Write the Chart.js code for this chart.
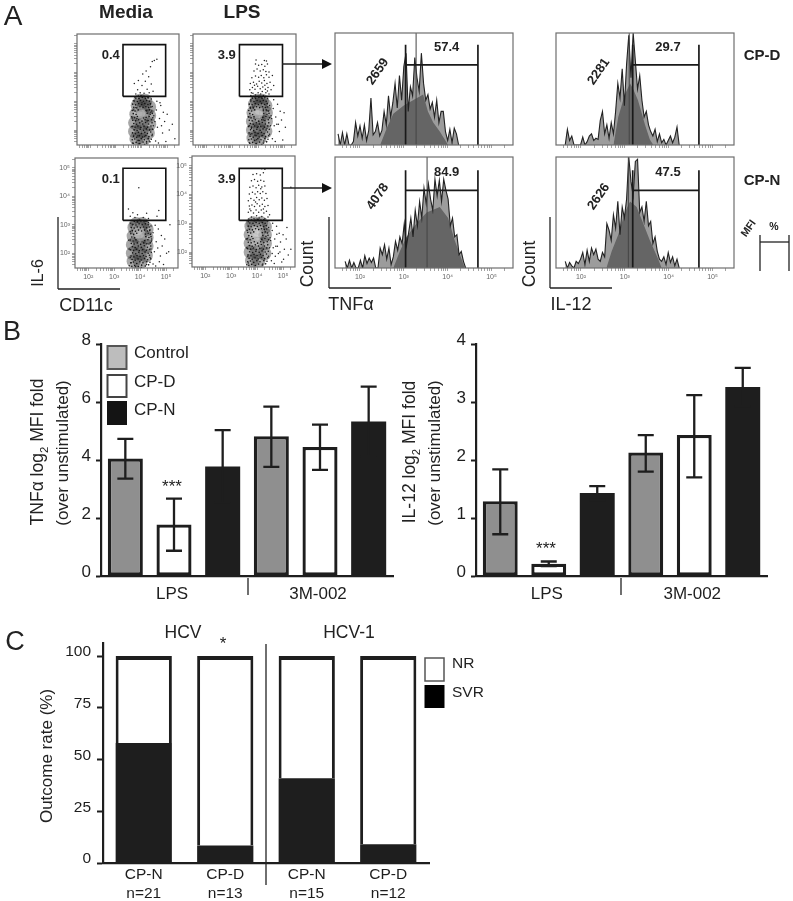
<!DOCTYPE html>
<html>
<head>
<meta charset="utf-8">
<title>Figure</title>
<script src="https://cdn.jsdelivr.net/npm/chart.js@4"></script>
<style>
html, body { margin: 0; padding: 0; background: #fff; }
#page { position: relative; width: 793px; height: 901px; overflow: hidden; font-family: "Liberation Sans", Arial, sans-serif; color: #222; }
canvas { position: absolute; }
.t { position: absolute; white-space: nowrap; line-height: 1; transform: translate(-50%, -50%); }
svg { position: absolute; left: 0; top: 0; }
sub { font-size: 65%; line-height: 0; }
</style>
</head>
<body>
<div id="page"></div>
<script>
// Panel B
const barCats = ['', 'LPS', '', '', '3M-002', ''];
const barColors = ['#8f8f8f', '#ffffff', '#1e1e1e', '#8f8f8f', '#ffffff', '#1e1e1e'];
const tnfMeans = [4.05, 1.78, 3.78, 4.82, 4.45, 5.33];
const tnfHigh = [4.73, 2.67, 5.03, 5.84, 5.22, 6.53];
const tnfLow = [3.36, 0.87, 2.53, 3.76, 3.66, 4.13];
const tnfTicks = [0, 2, 4, 6, 8];
const il12Means = [1.29, 0.21, 1.43, 2.13, 2.43, 3.26];
const il12High = [1.84, 0.25, 1.55, 2.43, 3.12, 3.59];
const il12Low = [0.72, 0.17, 1.31, 1.8, 1.7, 2.93];
const il12Ticks = [0, 1, 2, 3, 4];

// Panel C
const outcomeCats = [['CP-N', 'n=21'], ['CP-D', 'n=13'], ['CP-N', 'n=15'], ['CP-D', 'n=12']];
const svrRate = [58, 8.5, 41, 9];
const nrRate = [42, 91.5, 59, 91];
const outcomeTicks = [0, 25, 50, 75, 100];

// Panel A, axes in log10 decades
const decadeTicks = [1.6, 1.7, 1.78, 1.85, 1.9, 1.95, 2, 2.3, 2.48, 2.6, 2.7, 2.78, 2.85, 2.9, 2.95, 3, 3.3, 3.48, 3.6, 3.7, 3.78, 3.85, 3.9, 3.95, 4, 4.3, 4.48, 4.6, 4.7, 4.78, 4.85, 4.9, 4.95, 5, 5.3];
const decadeNames = { 2: '10²', 3: '10³', 4: '10⁴', 5: '10⁵' };

// speckle seen in all four main clouds: [CD11c, IL-6] in decades
const cloudGrain = [[3.68,1.54],[3.79,1.57],[3.93,1.53],[4.06,1.58],[4.2,1.55],[4.33,1.59],
[3.64,1.66],[3.74,1.69],[3.87,1.64],[3.99,1.7],[4.11,1.66],[4.26,1.7],[4.38,1.68],
[3.69,1.78],[3.81,1.75],[3.92,1.8],[4.04,1.76],[4.17,1.81],[4.29,1.77],[4.41,1.8],
[3.65,1.9],[3.76,1.87],[3.88,1.92],[4.0,1.88],[4.13,1.92],[4.23,1.88],[4.36,1.93],
[3.71,2.01],[3.83,1.98],[3.95,2.03],[4.08,1.99],[4.19,2.04],[4.31,2.0],[4.43,2.03],
[3.63,2.12],[3.75,2.1],[3.86,2.14],[3.97,2.09],[4.1,2.13],[4.24,2.1],[4.37,2.14],
[3.7,2.23],[3.81,2.2],[3.93,2.25],[4.05,2.21],[4.16,2.26],[4.28,2.21],[4.41,2.25],
[3.66,2.34],[3.77,2.32],[3.89,2.36],[4.02,2.31],[4.14,2.36],[4.26,2.33],[4.39,2.36],
[3.62,2.46],[3.73,2.43],[3.84,2.47],[4.18,2.44],[4.3,2.47],[4.44,2.43],
[3.68,2.57],[3.79,2.54],[4.22,2.58],[4.34,2.55],[4.42,2.58],
[3.64,2.68],[3.75,2.66],[3.87,2.7],[4.2,2.67],[4.31,2.7],[4.4,2.66],
[3.7,2.79],[3.82,2.77],[3.94,2.81],[4.06,2.78],[4.17,2.81],[4.28,2.78],[4.37,2.8],
[3.66,2.9],[3.77,2.88],[3.89,2.92],[4.01,2.89],[4.13,2.92],[4.25,2.89],[4.35,2.92],
[3.72,3.01],[3.84,2.99],[3.96,3.03],[4.08,3.0],[4.2,3.03],[4.31,3.0],
[3.78,3.11],[3.9,3.1],[4.03,3.13],[4.15,3.1],[4.26,3.12]];

// dot plots: [CD11c, IL-6] in decades
const mediaTopCore = [[3.8,1.7],[4.05,1.65],[3.75,1.95],[4.0,1.95],[4.25,1.9],[3.75,2.25],[4.0,2.25],[4.3,2.2],[3.8,2.55],[4.05,2.55],[4.3,2.5],[3.85,2.85],[4.1,2.85],[4.3,2.8],[3.95,3.02],[4.15,3.02]];
const mediaTopLight = [[3.92,2.62],[4.02,2.5]];
const mediaTopDots = [[3.78,3.25],[3.85,3.4],[3.72,3.62],[3.95,3.3],[4.02,3.55],[4.1,3.28],[3.88,3.72],[4.15,3.7],[4.22,3.42],[4.3,3.3],[4.28,3.85],[4.18,4.05],[4.35,4.2],[4.42,4.38],[4.5,4.42],[4.6,4.46],[4.05,3.95],[3.98,3.2],[4.38,3.6],[4.45,3.35],
[4.55,1.62],[4.62,2.1],[4.7,2.4],[4.58,2.7],[4.75,2.85],[4.82,1.9],[4.9,2.3],[5.0,2.55],[5.08,2.0],[4.66,1.55],[4.95,1.6],[5.2,2.2],[4.6,3.0],[4.72,2.95],[4.52,2.3],[4.85,2.62],[5.3,1.7],[4.78,2.15],
[3.65,1.55],[3.7,1.82],[3.66,2.12],[3.64,2.42],[3.7,2.7],[3.68,3.02],[3.9,1.52],[4.12,1.5],[4.3,1.62],[4.42,1.85],[4.46,2.15],[4.48,2.5],[4.42,2.82],[4.38,3.08],[3.74,3.15],[3.88,3.18],[4.1,3.16],[4.25,3.12],[3.86,1.8],[3.98,2.1],[4.12,1.78],[4.22,2.32],[3.82,2.4],[4.18,2.68],[3.78,2.78],[4.32,2.02],[3.92,1.64],[4.08,2.42],[4.36,2.62],[3.72,2.0],[4.2,1.6],[4.02,2.95],[3.9,3.1],[4.35,2.9]];

const lpsTopCore = [[3.82,1.72],[4.05,1.7],[3.8,2.0],[4.05,2.0],[4.28,1.95],[3.8,2.3],[4.05,2.3],[4.3,2.3],[3.82,2.6],[4.05,2.62],[4.3,2.6],[3.88,2.9],[4.1,2.9],[4.28,2.85],[3.95,3.02],[4.15,3.02]];
const lpsTopLight = [[3.98,2.62],[4.08,2.72],[3.95,2.5]];
const lpsTopDots = [[3.72,3.2],[3.8,3.28],[3.9,3.22],[4.0,3.3],[4.1,3.25],[4.2,3.2],[4.3,3.3],[4.42,3.25],[3.68,3.4],[3.78,3.48],[3.88,3.42],[3.98,3.52],[4.08,3.44],[4.18,3.5],[4.28,3.42],[4.38,3.48],[4.5,3.4],[3.7,3.62],[3.82,3.66],[3.94,3.6],[4.04,3.7],[4.14,3.64],[4.24,3.72],[4.34,3.62],[4.46,3.66],[3.76,3.82],[3.9,3.88],[4.02,3.84],[4.12,3.9],[4.22,3.82],[4.32,3.92],[4.42,3.84],[3.84,4.05],[3.96,4.12],[4.08,4.05],[4.2,4.1],[4.3,4.04],[4.42,4.02],[3.9,4.3],[4.02,4.25],[4.14,4.28],[4.26,4.22],[4.36,4.3],[3.92,4.44],[4.24,4.42],[4.32,4.4],[4.55,3.9],[4.6,3.55],[3.74,3.3],[4.16,3.34],[4.36,3.36],[3.86,3.56],[4.26,3.56],
[4.55,1.7],[4.62,2.15],[4.68,2.45],[4.58,2.75],[4.75,2.9],[4.82,1.95],[4.9,2.35],[5.0,2.6],[5.05,2.1],[4.66,1.6],[4.95,1.65],[4.6,3.05],[4.72,2.2],[4.52,2.4],[4.85,2.65],[4.78,2.2],
[3.66,1.56],[3.7,1.85],[3.66,2.15],[3.64,2.45],[3.7,2.75],[3.72,3.05],[3.92,1.52],[4.14,1.5],[4.32,1.6],[4.44,1.85],[4.48,2.15],[4.5,2.5],[4.44,2.85],[4.36,3.1],[3.88,3.14],[4.12,3.14],[3.88,1.82],[4.0,2.12],[4.14,1.8],[4.2,2.35],[3.84,2.42],[4.2,2.72],[3.8,2.8],[4.34,2.05],[3.94,1.66],[4.34,2.68],[3.74,2.05],[4.22,1.62]];

const mediaBotCore = [[3.75,1.72],[4.0,1.68],[3.72,2.0],[3.98,1.98],[4.22,1.92],[3.72,2.3],[3.98,2.3],[4.25,2.25],[3.75,2.6],[4.0,2.62],[4.25,2.55],[3.78,2.9],[4.02,2.92],[4.25,2.85],[3.85,3.02],[4.08,3.02]];
const mediaBotLight = [[3.95,2.72],[4.02,2.62],[3.92,2.85]];
const mediaBotDots = [[3.62,3.3],[3.72,3.42],[3.55,3.55],[3.8,3.25],[3.9,3.35],[4.12,3.25],[4.32,3.22],[4.65,3.3],[4.72,3.5],[3.95,4.3],[4.25,3.4],
[4.5,1.62],[4.55,2.05],[4.62,2.4],[4.5,2.72],[4.7,2.85],[4.78,1.9],[4.85,2.25],[4.95,2.5],[5.02,2.0],[4.6,1.55],[4.9,1.6],[5.1,2.05],[4.58,2.98],[4.42,2.95],[4.68,2.18],[4.82,2.62],[5.15,3.0],[4.74,1.7],
[3.58,1.56],[3.62,1.85],[3.58,2.15],[3.56,2.45],[3.62,2.75],[3.64,3.05],[3.82,1.52],[4.05,1.5],[4.25,1.6],[4.38,1.85],[4.42,2.15],[4.44,2.5],[4.38,2.82],[4.32,3.08],[3.76,3.14],[3.98,3.16],[4.2,3.12],[3.66,1.66],[4.34,2.32],[3.7,3.0]];

const lpsBotCore = [[3.8,1.7],[4.05,1.68],[3.75,2.0],[4.0,1.98],[4.28,1.95],[3.75,2.3],[4.0,2.3],[4.3,2.3],[3.75,2.6],[4.02,2.6],[4.3,2.6],[3.78,2.9],[4.04,2.92],[4.3,2.88],[3.85,3.0],[4.15,3.0]];
const lpsBotLight = [[3.95,2.6],[4.05,2.72],[3.9,2.42],[4.0,2.85],[3.98,2.3],[3.85,2.7]];
const lpsBotDots = [[3.68,3.15],[3.78,3.22],[3.88,3.16],[3.98,3.26],[4.08,3.18],[4.18,3.24],[4.3,3.16],[4.42,3.22],[3.66,3.38],[3.76,3.44],[3.86,3.36],[3.96,3.46],[4.06,3.38],[4.16,3.46],[4.26,3.36],[4.36,3.42],[4.48,3.3],[3.7,3.6],[3.8,3.64],[3.9,3.58],[4.0,3.68],[4.1,3.6],[4.2,3.66],[4.3,3.58],[4.42,3.62],[3.66,3.78],[3.76,3.86],[3.88,3.8],[3.98,3.9],[4.08,3.82],[4.18,3.88],[4.28,3.8],[4.38,3.86],[3.7,4.02],[3.82,4.08],[3.92,4.02],[4.02,4.1],[4.12,4.04],[4.22,4.1],[4.34,4.04],[3.72,4.25],[3.84,4.3],[3.96,4.24],[4.06,4.32],[4.18,4.26],[4.3,4.3],[3.78,4.48],[3.9,4.52],[4.02,4.46],[4.14,4.5],[4.26,4.46],[3.84,4.7],[3.98,4.72],[4.12,4.68],[4.24,4.76],[4.3,4.88],[4.18,4.9],[5.3,4.25],[3.72,3.5],[3.94,3.74],[4.24,3.5],[4.14,4.2],
[4.55,1.7],[4.62,2.15],[4.68,2.45],[4.58,2.75],[4.75,2.9],[4.82,1.95],[4.9,2.35],[5.0,2.6],[5.05,2.1],[4.66,1.6],[4.95,1.65],[4.6,3.0],[4.72,2.2],[4.52,2.4],[4.85,2.65],[4.78,2.2],[5.12,2.45],[5.2,1.9],[5.3,2.1],[4.7,1.85],[4.58,1.95],[4.88,2.0],[5.15,2.85],[5.02,1.75],[4.76,2.62],
[3.6,1.56],[3.64,1.85],[3.6,2.15],[3.58,2.45],[3.62,2.75],[3.66,3.05],[4.44,1.85],[4.48,2.15],[4.5,2.5],[4.44,2.85],[4.4,3.08],[3.66,1.62],[4.22,1.58]];

// histograms: percent of the frame height per bin, bins 0.05 decades wide
const binWidth = 0.05;
const tnfTopStart = 1.5;
const tnfTopCounts = [10,0,11,0,10,0,0,3, 20,8,17,6,18,4,13,42,9,12, 20,8,13,30,18,44,25,38,55,33, 62,40,70,82,30,52,44,78,60,48, 82,55,40,45,32,38,25,40,20,30, 30,12,4,14,2,15,10,0];
const tnfBotStart = 1.66;
const tnfBotCounts = [6,0,7,0,5,0,0,7,0,11,4,9,5,9, 0,0,18, 12,21,8,18,3,10,24,16,28,22, 40,20,32,45,28,52,38,60,45,72, 58,76,62,52,80,65,79,60,80,70, 62,38,45,28,30,12,15,6,0];
const il12TopStart = 1.64;
const il12TopCounts = [0,14,4,8,0,0,0,0, 7,0,3,8,10,4,6,5, 22,30,10,18,6,20,10,30, 55,42,68,35,72,98,60,100, 75,50,62,40,25,30,18,12, 8,14,3,10,2,5,0,4,8,2,7,16,0];
const il12BotStart = 1.64;
const il12BotCounts = [6,0,5,2,0,6,4,8,14,3, 16,6,18,12,17,8,6,14,10,40, 34,25,48,36,60,30,55,45,62,100, 78,65,96,98,50,55,42,60,38,42, 22,28,15,8,6,10,3,14,5,10, 2,8,0];
// solid grey body under the spikes: [decade, percent]
const tnfTopBody = [[2.46,0],[2.61,15],[2.76,28],[2.99,35],[3.21,40],[3.44,45],[3.55,30],[3.67,20],[3.82,12],[4.01,0]];
const tnfBotBody = [[2.76,0],[2.91,15],[3.06,28],[3.29,40],[3.52,50],[3.82,55],[4.01,45],[4.16,25],[4.28,12],[4.39,0]];
const il12TopBody = [[2.74,0],[2.85,25],[3.0,45],[3.12,55],[3.19,50],[3.3,40],[3.46,18],[3.57,5],[3.65,0]];
const il12BotBody = [[2.58,0],[2.7,15],[2.85,30],[3.0,50],[3.12,60],[3.27,55],[3.42,40],[3.57,25],[3.76,8],[3.84,0]];

const page = document.getElementById('page');
const ink = '#1e1e1e';

// chart area lands exactly on box = [x0, y0, x1, y1], m = room around it for ticks
function addChart(box, m, config) {
	const c = document.createElement('canvas');
	const w = box[2] - box[0] + m.l + m.r;
	const h = box[3] - box[1] + m.t + m.b;
	c.width = w;
	c.height = h;
	c.style.left = (box[0] - m.l) + 'px';
	c.style.top = (box[1] - m.t) + 'px';
	c.style.width = w + 'px';
	c.style.height = h + 'px';
	page.appendChild(c);
	config.options.responsive = false;
	config.options.animation = false;
	config.options.events = [];
	config.options.layout = { padding: { top: m.t, right: m.r } };
	config.options.plugins = { legend: { display: false }, tooltip: { enabled: false } };
	config.options.scales.x.afterFit = s => { s.height = m.b; };
	config.options.scales.y.afterFit = s => { s.width = m.l; };
	return new Chart(c, config);
}

function text(str, x, y, size, opts) {
	opts = opts || {};
	const d = document.createElement('div');
	d.className = 't';
	d.innerHTML = str;
	d.style.left = x + 'px';
	d.style.top = y + 'px';
	d.style.fontSize = size + 'px';
	if (opts.bold) d.style.fontWeight = 'bold';
	if (opts.rotate) d.style.transform = 'translate(-50%, -50%) rotate(' + opts.rotate + 'deg)';
	if (opts.left) d.style.transform = 'translate(0, -50%)';
	page.appendChild(d);
}

const frame = {
	id: 'frame',
	afterDraw(chart) {
		const a = chart.chartArea, ctx = chart.ctx;
		ctx.save();
		ctx.strokeStyle = '#6e6e6e';
		ctx.lineWidth = 1.2;
		ctx.strokeRect(a.left, a.top, a.right - a.left, a.bottom - a.top);
		ctx.restore();
	}
};

const errorBars = {
	id: 'errorBars',
	afterDatasetsDraw(chart) {
		const ds = chart.data.datasets[0];
		const y = chart.scales.y, ctx = chart.ctx;
		ctx.save();
		ctx.strokeStyle = ink;
		ctx.lineWidth = 2.3;
		chart.getDatasetMeta(0).data.forEach((el, i) => {
			const hi = y.getPixelForValue(ds.errHigh[i]);
			const lo = y.getPixelForValue(ds.errLow[i]);
			ctx.beginPath();
			ctx.moveTo(el.x, hi);
			ctx.lineTo(el.x, lo);
			ctx.moveTo(el.x - 8, hi);
			ctx.lineTo(el.x + 8, hi);
			ctx.moveTo(el.x - 8, lo);
			ctx.lineTo(el.x + 8, lo);
			ctx.stroke();
		});
		ctx.restore();
	}
};

function decadeAxis(min, max, labelled) {
	return {
		type: 'linear', min: min, max: max,
		afterBuildTicks: s => { s.ticks = decadeTicks.filter(v => v > min && v < max).map(v => ({ value: v })); },
		border: { display: false },
		grid: { drawOnChartArea: false, tickLength: 3, tickColor: '#666', tickWidth: 0.6 },
		ticks: {
			autoSkip: false, maxRotation: 0, padding: 2, color: '#666', display: labelled,
			font: { family: 'Liberation Sans', size: 7 },
			callback: v => decadeNames[v] || ''
		}
	};
}

function dotPlot(box, core, light, dots, gate, labelled) {
	const outline = [[gate[0], gate[2]], [gate[1], gate[2]], [gate[1], gate[3]], [gate[0], gate[3]], [gate[0], gate[2]]];
	const xy = p => ({ x: p[0], y: p[1] });
	addChart(box, { l: 18, r: 8, t: 12, b: 22 }, {
		type: 'scatter',
		data: { datasets: [
			{ data: outline.map(xy), showLine: true, borderColor: '#111', borderWidth: 1.6, pointRadius: 0 },
			{ data: dots.map(xy), pointRadius: 0.75, pointBorderWidth: 0, backgroundColor: '#222' },
			{ data: cloudGrain.map(xy), pointRadius: 0.8, pointBorderWidth: 0, backgroundColor: '#141414' },
			{ data: light.map(xy), pointRadius: 6, pointBorderWidth: 0, backgroundColor: 'rgba(225,225,225,0.32)' },
			{ data: core.map(xy), pointRadius: 7, pointBorderWidth: 0, backgroundColor: 'rgba(60,60,60,0.45)' }
		] },
		options: { scales: { x: decadeAxis(1.49, 5.46, labelled), y: decadeAxis(1.48, 5.34, labelled) } },
		plugins: [frame]
	});
}

function histogram(box, start, counts, body, gate, mfi, labelled) {
	const path = [[gate[0], 0], [gate[0], gate[3]], [gate[0], gate[2]], [gate[1], gate[2]], [gate[1], gate[3]], [gate[1], 0]];
	const xy = p => ({ x: p[0], y: p[1] });
	addChart(box, { l: 6, r: 8, t: 12, b: 22 }, {
		type: 'scatter',
		data: { datasets: [
			{ data: path.map(xy), showLine: true, borderColor: '#1a1a1a', borderWidth: 1.7, pointRadius: 0 },
			{ data: [[mfi, 0], [mfi, 100]].map(xy), showLine: true, borderColor: '#444', borderWidth: 1, pointRadius: 0 },
			{ data: counts.map((v, i) => ({ x: start + i * binWidth, y: v })), showLine: true, fill: 'origin', backgroundColor: 'rgba(95,95,95,0.62)', borderColor: '#222', borderWidth: 1.1, pointRadius: 0 },
			{ data: body.map(xy), showLine: true, fill: 'origin', backgroundColor: '#6e6e6e', borderWidth: 0, pointRadius: 0 }
		] },
		options: { scales: {
			x: decadeAxis(1.43, 5.49, labelled),
			y: { type: 'linear', min: 0, max: 100, ticks: { display: false }, grid: { display: false, drawTicks: false }, border: { display: false } }
		} },
		plugins: [frame]
	});
}

function meanBars(box, means, high, low, ticks, top) {
	addChart(box, { l: 45, r: 6, t: 16, b: 30 }, {
		type: 'bar',
		data: { labels: barCats, datasets: [{ data: means, errHigh: high, errLow: low, backgroundColor: barColors, borderColor: ink, borderWidth: [3.3, 3.3, 0, 3.3, 3.3, 0], borderSkipped: false, barPercentage: 0.72, categoryPercentage: 1 }] },
		options: { scales: {
			x: {
				border: { color: ink, width: 2.2 }, grid: { display: false, drawTicks: false },
				ticks: { autoSkip: false, maxRotation: 0, padding: 8, labelOffset: -2, color: ink, font: { family: 'Liberation Sans', size: 17 } }
			},
			y: {
				min: 0, max: top,
				afterBuildTicks: s => { s.ticks = ticks.map(v => ({ value: v })); },
				border: { color: ink, width: 2.2 },
				grid: { drawOnChartArea: false, tickLength: 5, tickColor: ink, tickWidth: 2 },
				ticks: { padding: 5, labelOffset: -4, color: ink, font: { family: 'Liberation Sans', size: 17 } }
			}
		} },
		plugins: [errorBars]
	});
}

// Panel A
dotPlot([77, 34, 179, 145], mediaTopCore, mediaTopLight, mediaTopDots, [3.28, 4.94, 3.17, 4.97], false);
dotPlot([193, 34, 296, 145], lpsTopCore, lpsTopLight, lpsTopDots, [3.28, 4.94, 3.17, 4.97], false);
dotPlot([75, 158, 178, 268], mediaBotCore, mediaBotLight, mediaBotDots, [3.34, 4.99, 3.15, 4.98], true);
dotPlot([192, 156, 295, 267], lpsBotCore, lpsBotLight, lpsBotDots, [3.31, 4.97, 3.1, 4.91], true);

histogram([335, 33, 513, 145], tnfTopStart, tnfTopCounts, tnfTopBody, [3.04, 4.69, 71.6, 89.5], 3.28, false);
histogram([335, 157, 513, 268], tnfBotStart, tnfBotCounts, tnfBotBody, [3.04, 4.69, 70, 88], 3.53, true);
histogram([556, 33, 734, 145], il12TopStart, il12TopCounts, il12TopBody, [3.18, 4.69, 71.6, 89.5], 3.1, false);
histogram([556, 157, 734, 268], il12BotStart, il12BotCounts, il12BotBody, [3.18, 4.69, 70, 88], 3.08, true);

// Panel B
meanBars([101, 344, 393, 576], tnfMeans, tnfHigh, tnfLow, tnfTicks, 8);
meanBars([476, 344, 767, 576], il12Means, il12High, il12Low, il12Ticks, 4);

// Panel C
addChart([103, 643, 429, 863], { l: 45, r: 6, t: 18, b: 36 }, {
	type: 'bar',
	data: { labels: outcomeCats, datasets: [
		{ label: 'SVR', data: svrRate, backgroundColor: ink, borderWidth: 0, barPercentage: 0.69, categoryPercentage: 1 },
		{ label: 'NR', data: nrRate, backgroundColor: '#fff', borderColor: ink, borderWidth: { top: 4, left: 3, right: 3, bottom: 0 }, barPercentage: 0.69, categoryPercentage: 1 }
	] },
	options: { scales: {
		x: {
			stacked: true, border: { color: ink, width: 2.2 }, grid: { display: false, drawTicks: false },
			ticks: { autoSkip: false, maxRotation: 0, padding: 2, color: ink, font: { family: 'Liberation Sans', size: 15.5, lineHeight: 1.22 } }
		},
		y: {
			stacked: true, min: 0, max: 106.3,
			afterBuildTicks: s => { s.ticks = outcomeTicks.map(v => ({ value: v })); },
			border: { color: ink, width: 2.2 },
			grid: { drawOnChartArea: false, tickLength: 6, tickColor: ink, tickWidth: 2 },
			ticks: { padding: 6, labelOffset: -4, color: ink, font: { family: 'Liberation Sans', size: 15.5 } }
		}
	} }
});

// lines and swatches that are not marks
const lines = [
	[58, 217, 58, 289], [58, 289, 120, 289], [329, 217, 329, 288], [329, 288, 391, 288], [550, 217, 550, 288], [550, 288, 612, 288],
	[282, 64, 324, 64], [282, 188, 324, 188],
	[760, 235, 760, 271], [789, 235, 789, 271], [760, 242, 789, 242],
	[248, 578, 248, 595], [621, 578, 621, 595], [266, 644, 266, 885]
];
let svg = '<svg width="793" height="901">';
lines.forEach(l => { svg += '<line x1="' + l[0] + '" y1="' + l[1] + '" x2="' + l[2] + '" y2="' + l[3] + '" stroke="#222" stroke-width="1.3"/>'; });
svg += '<path d="M322 59L332 64L322 69Z M322 183L332 188L322 193Z" fill="#111"/>';
svg += '<rect x="107.5" y="346" width="19" height="23" fill="#bdbdbd" stroke="#555" stroke-width="2"/>';
svg += '<rect x="107.5" y="375" width="19" height="22" fill="#fff" stroke="#444" stroke-width="2"/>';
svg += '<rect x="107" y="401" width="20" height="24" fill="#141414"/>';
svg += '<rect x="425" y="658" width="19" height="23" fill="#fff" stroke="#555" stroke-width="1.5"/>';
svg += '<rect x="424.5" y="685" width="20" height="23" fill="#000"/>';
svg += '</svg>';
page.insertAdjacentHTML('beforeend', svg);

text('A', 13, 16, 28);
text('B', 12, 331, 27);
text('C', 15, 641, 27);
text('Media', 126, 11, 19, { bold: true });
text('LPS', 242, 11, 19, { bold: true });
text('0.4', 110.7, 54, 13, { bold: true });
text('3.9', 226.7, 54, 13, { bold: true });
text('0.1', 110.7, 178, 13, { bold: true });
text('3.9', 226.7, 178, 13, { bold: true });
text('57.4', 446.7, 46, 13, { bold: true });
text('84.9', 446.7, 171, 13, { bold: true });
text('29.7', 668, 46, 13, { bold: true });
text('47.5', 668, 171, 13, { bold: true });
text('2659', 377, 71, 13, { bold: true, rotate: -55 });
text('4078', 377, 196, 13, { bold: true, rotate: -55 });
text('2281', 598, 71, 13, { bold: true, rotate: -55 });
text('2626', 598, 196, 13, { bold: true, rotate: -55 });
text('CP-D', 762, 54, 15, { bold: true });
text('CP-N', 762, 179, 15, { bold: true });
text('MFI', 748, 228, 10.5, { bold: true, rotate: -55 });
text('%', 774, 226, 10.5, { bold: true });
text('IL-6', 38, 273, 16, { rotate: -90 });
text('CD11c', 86, 305, 18);
text('Count', 308, 264, 17.5, { rotate: -90 });
text('TNF&alpha;', 351, 304, 18);
text('Count', 530, 264, 17.5, { rotate: -90 });
text('IL-12', 571, 304, 18);

text('Control', 134, 352, 17, { left: true });
text('CP-D', 134, 381, 17, { left: true });
text('CP-N', 134, 409, 17, { left: true });
text('TNF&alpha; log<sub>2</sub> MFI fold', 38, 452, 17.5, { rotate: -90 });
text('(over unstimulated)', 62, 453, 17, { rotate: -90 });
text('IL-12 log<sub>2</sub> MFI fold', 410, 452, 17.5, { rotate: -90 });
text('(over unstimulated)', 434, 453, 17, { rotate: -90 });
text('***', 172, 486, 17);
text('***', 546, 548, 17);

text('HCV', 183, 633, 17.5);
text('HCV-1', 349, 633, 17.5);
text('*', 223, 643, 17);
text('NR', 452, 663, 15.5, { left: true });
text('SVR', 452, 692, 15.5, { left: true });
text('Outcome rate (%)', 46, 756, 17, { rotate: -90 });
</script>
</body>
</html>
